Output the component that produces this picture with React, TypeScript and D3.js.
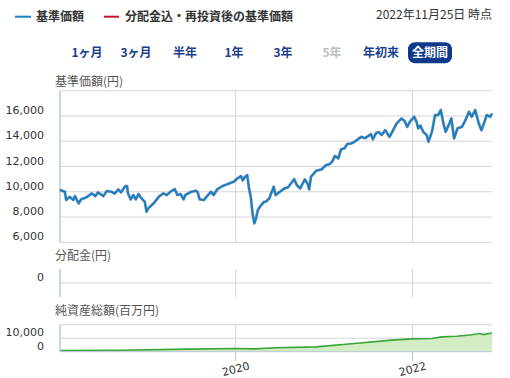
import React from "react";
import * as d3 from "d3";

// 基準価額 series: [decimal year, value]
const navSeries: [number, number][] = [
  [2018.01, 10150], [2018.065, 10000], [2018.08, 9350], [2018.12, 9600], [2018.16, 9350],
  [2018.18, 9660], [2018.22, 9085], [2018.25, 9400], [2018.31, 9560], [2018.37, 9870],
  [2018.41, 9660], [2018.44, 9950], [2018.5, 9660], [2018.54, 10060], [2018.59, 10000],
  [2018.63, 9870], [2018.67, 10190], [2018.7, 9950], [2018.75, 10450], [2018.77, 10450],
  [2018.78, 9870], [2018.81, 9400], [2018.84, 9740], [2018.87, 9400], [2018.9, 9820],
  [2018.93, 9500], [2018.97, 9210], [2018.99, 8420], [2019.01, 8690], [2019.07, 9085],
  [2019.13, 9610], [2019.18, 9870], [2019.22, 9740], [2019.26, 10000], [2019.31, 10210],
  [2019.34, 9740], [2019.375, 9820], [2019.41, 9400], [2019.43, 9740], [2019.49, 9980],
  [2019.55, 10080], [2019.57, 9950], [2019.59, 9400], [2019.64, 9350], [2019.67, 9610],
  [2019.72, 10000], [2019.75, 9740], [2019.79, 10190], [2019.85, 10450], [2019.91, 10610],
  [2019.94, 10700], [2019.98, 10800], [2020.02, 11060], [2020.06, 11240], [2020.08, 10900],
  [2020.1, 11140], [2020.13, 11320], [2020.15, 10270], [2020.17, 9610], [2020.19, 8290],
  [2020.21, 7500], [2020.23, 7900], [2020.25, 8555], [2020.28, 8880], [2020.32, 9210],
  [2020.34, 9210], [2020.38, 9480], [2020.43, 10400], [2020.45, 9740], [2020.49, 9950],
  [2020.55, 10270], [2020.59, 10350], [2020.625, 10670], [2020.66, 11000], [2020.69, 10530],
  [2020.73, 10270], [2020.78, 10980], [2020.81, 10670], [2020.83, 10190], [2020.85, 11190],
  [2020.91, 11660], [2020.97, 11770], [2021.02, 12110], [2021.06, 12190], [2021.09, 12380],
  [2021.12, 12830], [2021.16, 12650], [2021.19, 13360], [2021.23, 13440], [2021.26, 13780],
  [2021.31, 13830], [2021.34, 13940], [2021.38, 14150], [2021.42, 14350], [2021.46, 14240],
  [2021.5, 14420], [2021.53, 14570], [2021.55, 14150], [2021.59, 14670], [2021.62, 14720],
  [2021.65, 14490], [2021.69, 14880], [2021.74, 14350], [2021.78, 14880], [2021.82, 15410],
  [2021.875, 15800], [2021.91, 15600], [2021.94, 15140], [2021.97, 15540], [2022.02, 15930],
  [2022.045, 15540], [2022.065, 15020], [2022.09, 15230], [2022.12, 14750], [2022.16, 14490],
  [2022.18, 13960], [2022.22, 14750], [2022.255, 16070], [2022.29, 16070], [2022.32, 16470],
  [2022.35, 15410], [2022.375, 14750], [2022.41, 15280], [2022.44, 15800], [2022.47, 14230],
  [2022.51, 15020], [2022.56, 15140], [2022.59, 15540], [2022.64, 16330], [2022.67, 15930],
  [2022.71, 16470], [2022.75, 15410], [2022.78, 14880], [2022.815, 15540], [2022.84, 16070],
  [2022.88, 15930], [2022.9, 16200],
];

// 純資産総額 (百万円)
const assetSeries: [number, number][] = [
  [2018.01, 800], [2018.67, 1100], [2019.47, 1900], [2019.99, 2400], [2020.22, 2100],
  [2020.45, 2900], [2020.91, 3600], [2021.31, 5900], [2021.76, 8600], [2022.0, 9500],
  [2022.22, 9800], [2022.33, 11000], [2022.5, 11400], [2022.67, 12500], [2022.76, 13500],
  [2022.8, 12700], [2022.9, 13900],
];

const navTicks = [6000, 8000, 10000, 12000, 14000, 16000, 18000];
const navTickLabels = [6000, 8000, 10000, 12000, 14000, 16000];
const assetTicks = [0, 10000, 20000];
const assetTickLabels = [0, 10000];
const yearTicks = [2020, 2022];
const periodButtons = ["1ヶ月", "3ヶ月", "半年", "1年", "3年", "5年", "年初来", "全期間"];
const activeButton = "全期間";
const disabledButton = "5年";
const legendItems = ["基準価額", "分配金込・再投資後の基準価額"];
const asOfText = "2022年11月25日 時点";

const toDate = (t: number) => {
  const y = Math.floor(t);
  const s = +new Date(y, 0, 1);
  const e = +new Date(y + 1, 0, 1);
  return new Date(s + (t - y) * (e - s));
};

const FONT = "'DejaVu Sans', 'Noto Sans CJK JP', sans-serif";
const JFONT = "'Noto Sans CJK JP', sans-serif";

export default function App() {
  const x = d3
    .scaleTime()
    .domain([toDate(navSeries[0][0]), toDate(navSeries[navSeries.length - 1][0])])
    .range([60, 492]);
  const yNav = d3.scaleLinear().domain([6000, 18000]).range([242.3, 90.7]);
  const yDist = d3.scaleLinear().domain([-1, 1]).range([297, 269]);
  const yAsset = d3.scaleLinear().domain([0, 20000]).range([351.7, 324.7]);

  const navLine = d3
    .line<[number, number]>()
    .x((d) => x(toDate(d[0])))
    .y((d) => yNav(d[1]));
  const assetLine = d3
    .line<[number, number]>()
    .x((d) => x(toDate(d[0])))
    .y((d) => yAsset(d[1]));
  const assetArea = d3
    .area<[number, number]>()
    .x((d) => x(toDate(d[0])))
    .y0(yAsset(0))
    .y1((d) => yAsset(d[1]));

  const fmt = d3.format(",");
  const grid = "#d4d4d4";
  const axisBlue = "#b7c7da";
  const btnX = [87, 136, 185, 234, 283, 332, 381, 430];

  return (
    <svg
      width={510}
      height={378}
      style={{ position: "absolute", left: 0, top: 0, background: "#fff" }}
    >
      {/* Legend */}
      <line x1={15} x2={31} y1={16.7} y2={16.7} stroke="#1a80c0" strokeWidth={2} />
      <text x={36} y={21} fontFamily={JFONT} fontSize={12} fontWeight={700} fill="#333">
        {legendItems[0]}
      </text>
      <line x1={104} x2={119} y1={16.7} y2={16.7} stroke="#c8102e" strokeWidth={2} />
      <text x={125} y={21} fontFamily={JFONT} fontSize={12} fontWeight={700} fill="#333">
        {legendItems[1]}
      </text>
      <text x={492} y={19} textAnchor="end" fontFamily={JFONT} fontSize={12} fill="#333">
        {asOfText}
      </text>

      {/* Period buttons */}
      {periodButtons.map((b, i) => {
        const active = b === activeButton;
        return (
          <g key={b}>
            {active && (
              <rect x={btnX[i] - 22} y={42.3} width={44} height={21} rx={7} fill="#0e3a8c" />
            )}
            <text
              x={btnX[i]}
              y={56.5}
              textAnchor="middle"
              fontFamily={JFONT}
              fontSize={12}
              fontWeight={700}
              fill={active ? "#fff" : b === disabledButton ? "#bdbdbd" : "#1b3f8f"}
            >
              {b}
            </text>
          </g>
        );
      })}

      {/* Main panel */}
      <text x={55} y={86} fontFamily={JFONT} fontSize={12} fill="#555">基準価額(円)</text>
      {navTicks.map((t) => (
        <line key={t} x1={60} x2={492} y1={yNav(t)} y2={yNav(t)} stroke={grid} strokeWidth={1} />
      ))}
      {yearTicks.map((yr) => (
        <line key={yr} x1={x(toDate(yr))} x2={x(toDate(yr))} y1={yNav(18000)} y2={yNav(6000)} stroke={grid} />
      ))}
      {navTickLabels.map((t) => (
        <text key={t} x={44} y={yNav(t) - 2} textAnchor="end" fontFamily={FONT} fontSize={11} fill="#333">
          {fmt(t)}
        </text>
      ))}
      <line x1={60} x2={60} y1={yNav(18000)} y2={yNav(6000)} stroke={axisBlue} strokeWidth={1.5} />
      <path d={navLine(navSeries) || ""} fill="none" stroke="#8a5a8a" strokeWidth={3} strokeOpacity={0.45} strokeLinejoin="round" />
      <path d={navLine(navSeries) || ""} fill="none" stroke="#1a80c0" strokeWidth={2.2} strokeLinejoin="round" />

      {/* Distribution panel */}
      <text x={55} y={260} fontFamily={JFONT} fontSize={12} fill="#555">分配金(円)</text>
      <line x1={60} x2={492} y1={yDist(0)} y2={yDist(0)} stroke={grid} />
      {yearTicks.map((yr) => (
        <line key={yr} x1={x(toDate(yr))} x2={x(toDate(yr))} y1={269} y2={297} stroke={grid} />
      ))}
      <text x={44} y={yDist(0) - 2} textAnchor="end" fontFamily={FONT} fontSize={11} fill="#333">0</text>
      <line x1={60} x2={60} y1={269} y2={297} stroke={axisBlue} strokeWidth={1.5} />

      {/* Net assets panel */}
      <text x={55} y={315} fontFamily={JFONT} fontSize={12} fill="#555">純資産総額(百万円)</text>
      {assetTicks.filter((t) => t > 0).map((t) => (
        <line key={t} x1={60} x2={492} y1={yAsset(t)} y2={yAsset(t)} stroke={grid} />
      ))}
      {yearTicks.map((yr) => (
        <line key={yr} x1={x(toDate(yr))} x2={x(toDate(yr))} y1={yAsset(20000)} y2={yAsset(0)} stroke={grid} />
      ))}
      <path d={assetArea(assetSeries) || ""} fill="#d2ecc3" />
      <path d={assetLine(assetSeries) || ""} fill="none" stroke="#3aa63a" strokeWidth={1.6} />
      {assetTickLabels.map((t) => (
        <text key={t} x={44} y={yAsset(t) - 2} textAnchor="end" fontFamily={FONT} fontSize={11} fill="#333">
          {fmt(t)}
        </text>
      ))}
      <line x1={60} x2={60} y1={yAsset(20000)} y2={yAsset(0)} stroke={axisBlue} strokeWidth={1.5} />
      <line x1={60} x2={492} y1={yAsset(0)} y2={yAsset(0)} stroke={axisBlue} strokeWidth={1} />
      {yearTicks.map((yr) => (
        <g key={yr}>
          <line x1={x(toDate(yr))} x2={x(toDate(yr))} y1={yAsset(0)} y2={361} stroke={axisBlue} />
          <text
            transform={`translate(${x(toDate(yr))},369) rotate(-15)`}
            textAnchor="middle"
            dy="0.35em"
            fontFamily={FONT}
            fontSize={11}
            fill="#333"
          >
            {yr}
          </text>
        </g>
      ))}
    </svg>
  );
}
